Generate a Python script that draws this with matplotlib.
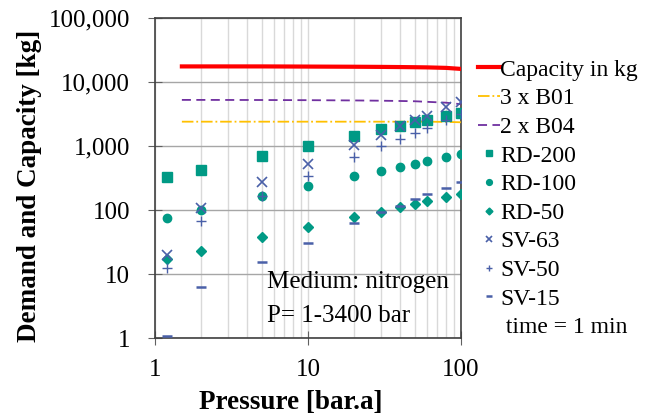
import numpy as np
import matplotlib
matplotlib.use("Agg")
import matplotlib.pyplot as plt
from matplotlib.lines import Line2D

plt.rcParams["font.family"] = ["Liberation Serif", "DejaVu Serif"]

# pressure points [bar.a]
pressure = [1.2, 2, 5, 10, 20, 30, 40, 50, 60, 80, 100]

# capacity curves
cap_p = [1.5, 2, 5, 10, 20, 30, 40, 50, 60, 80, 100]
capacity_kg = [17500, 17500, 17500, 17400, 17300, 17200, 17100, 17000, 16900, 16600, 16000]
b01_x3 = [2400, 2400, 2400, 2400, 2400, 2400, 2400, 2400, 2400, 2380, 2350]
b04_x2 = [5250, 5250, 5230, 5200, 5150, 5100, 5050, 5000, 4900, 4750, 4500]

# demand per valve
rd_200 = [324, 430, 710, 1010, 1450, 1820, 2080, 2340, 2550, 2950, 3240]
rd_100 = [74, 100, 166, 237, 340, 410, 475, 530, 585, 680, 760]
rd_50 = [17.5, 23, 38, 54, 79, 94, 112, 125, 138, 158, 176]
sv_63 = [19.8, 107, 270, 530, 1040, 1510, 2050, 2550, 2960, 4000, 4900]
sv_50 = [12.3, 67, 165, 340, 670, 1000, 1300, 1620, 1940, 2550, 3160]
sv_15 = [1.1, 6.2, 15.5, 31, 62, 94, 114, 147, 176, 223, 275]

TEAL = "#009a85"
BLUE = "#4a60a8"

fig = plt.figure(figsize=(6.51, 4.17), dpi=100)
ax = fig.add_axes([0.238, 0.189, 0.470, 0.768])

ax.plot(cap_p, capacity_kg, color="#ff0000", lw=3, label="Capacity in kg", zorder=3)
ax.plot(cap_p, b01_x3, color="#ffc000", lw=1.3, ls="-.", label="3 x B01", zorder=3)
ax.plot(cap_p, b04_x2, color="#7030a0", lw=1.3, ls=(0, (5, 3)), label="2 x B04", zorder=3)

ax.plot(pressure, rd_200, ls="none", marker="s", ms=7, color=TEAL, label="RD-200", zorder=4)
ax.plot(pressure, rd_100, ls="none", marker="o", ms=6, color=TEAL, label="RD-100", zorder=4)
ax.plot(pressure, rd_50, ls="none", marker="D", ms=5, color=TEAL, label="RD-50", zorder=4)
ax.plot(pressure, sv_63, ls="none", marker="x", ms=7, mew=1.2, color=BLUE, label="SV-63", zorder=4)
ax.plot(pressure, sv_50, ls="none", marker="+", ms=7, mew=1.0, color=BLUE, label="SV-50", zorder=4)
ax.plot(pressure, sv_15, ls="none", marker="_", ms=7, mew=1.8, color=BLUE, label="SV-15", zorder=4)

ax.set_xscale("log")
ax.set_yscale("log")
ax.set_xlim(1, 100)
ax.set_ylim(1, 100000)

ax.set_yticks([1, 10, 100, 1000, 10000, 100000])
ax.set_yticklabels(["1", "10", "100", "1,000", "10,000", "100,000"])
ax.set_xticks([1, 10, 100])
ax.set_xticklabels(["1", "10", "100"])
ax.yaxis.set_minor_locator(matplotlib.ticker.NullLocator())
ax.tick_params(axis="x", which="minor", length=0)
ax.tick_params(axis="both", which="major", labelsize=18, direction="inout",
               length=10, color="#606060", pad=10)
ax.tick_params(axis="y", pad=13)

ax.grid(True, axis="x", which="both", color="#d9d9d9", lw=1)
ax.grid(True, axis="y", which="major", color="#a6a6a6", lw=1)
ax.set_axisbelow(True)
for s in ax.spines.values():
    s.set_color("#404040")
    s.set_linewidth(1.2)

ax.set_xlabel("Pressure [bar.a]", fontsize=19.5, fontweight="bold")
ax.set_ylabel("Demand and Capacity [kg]", fontsize=19.5, fontweight="bold")
ax.xaxis.set_label_coords(0.444, -0.163)
ax.yaxis.set_label_coords(-0.369, 0.475)

ax.text(0.366, 0.156, "Medium: nitrogen", transform=ax.transAxes,
        fontsize=18, va="baseline")
ax.text(0.366, 0.051, "P= 1-3400 bar", transform=ax.transAxes,
        fontsize=18, va="baseline")

handles, labels = ax.get_legend_handles_labels()
handles.append(Line2D([], [], ls="none"))
labels.append(" time = 1 min")
fig.legend(handles, labels, loc="upper left", bbox_to_anchor=(0.734, 0.858),
           frameon=False, fontsize=17, handlelength=0.95, handletextpad=0.0,
           labelspacing=0.3, markerscale=0.7, borderaxespad=0, borderpad=0)

fig.savefig("out.png", dpi=100)
